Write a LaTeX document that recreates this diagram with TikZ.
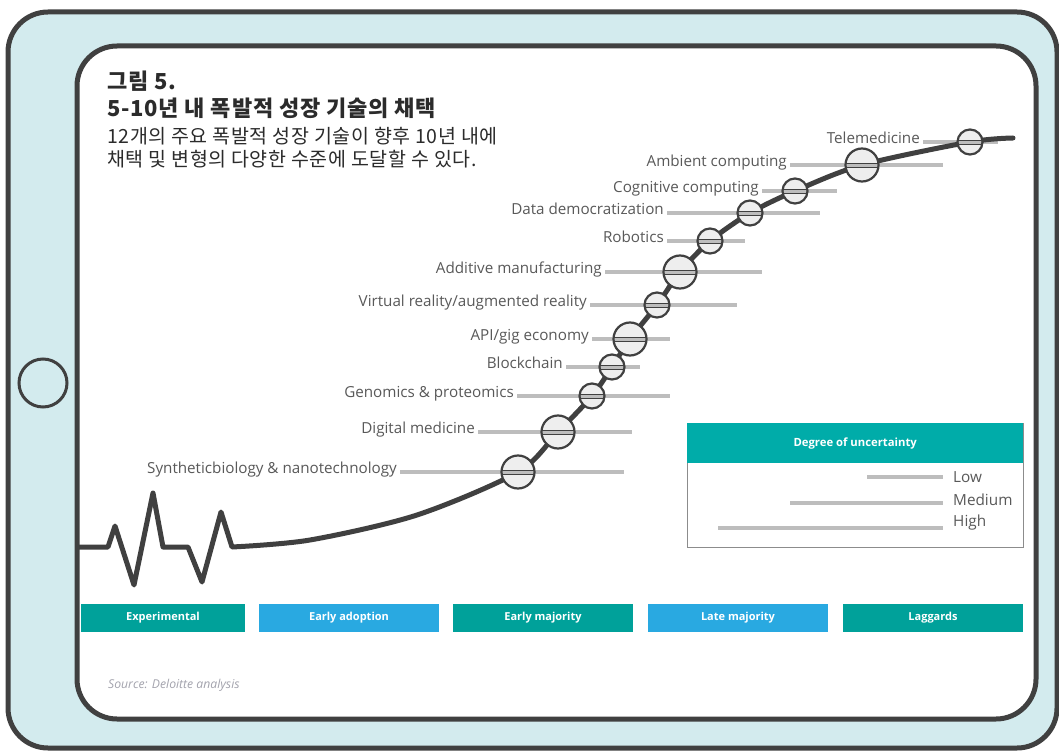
\documentclass[tikz,border=0pt]{standalone}
\usepackage{fontspec}
\setmainfont{Open Sans}
\newfontfamily\kofont{Noto Sans CJK KR}
\usetikzlibrary{calc}

\definecolor{edge}{HTML}{404040}
\definecolor{screenblue}{HTML}{D3EBEE}
\definecolor{labelgray}{HTML}{595959}
\definecolor{bargray}{HTML}{BDBDBD}
\definecolor{bubblefill}{HTML}{EEEEEE}
\definecolor{phaseteal}{HTML}{00A19A}
\definecolor{phaseblue}{HTML}{29A9E1}
\definecolor{headteal}{HTML}{00ACA9}
\definecolor{legendedge}{HTML}{8C8C8C}
\definecolor{sourcegray}{HTML}{A3A3AD}
\definecolor{titlegray}{HTML}{2B2B2B}

\tikzset{
  frame/.style={draw=edge, line width=5pt, rounded corners=40pt},
  wave/.style={draw=edge, line width=5pt, line join=round, line cap=round},
  bar/.style={draw=bargray, line width=4pt},
  bubble/.style={circle, draw=edge, line width=2.2pt, fill=bubblefill, inner sep=0pt,
    path picture={\draw[edge, line width=0.9pt, fill=bargray]
      ([yshift=-2pt]path picture bounding box.west) rectangle
      ([yshift=2pt]path picture bounding box.east);}},
  techlabel/.style={anchor=base east, inner sep=0pt, text=labelgray,
    font=\fontsize{15.2}{18}\selectfont},
  phase/.style={minimum width=180pt, minimum height=28pt, inner sep=0pt, text=white,
    font=\bfseries\fontsize{11}{13}\selectfont},
  levellabel/.style={anchor=west, inner sep=0pt, text=labelgray,
    font=\fontsize{15.3}{18}\selectfont},
  heading/.style={anchor=base west, inner sep=0pt, text=titlegray},
}

% x / y / radius / bar start / bar end / name / text
\def\techlist{
  518/472/16.5/400/624/synbio/{Syntheticbiology \& nanotechnology},
  558/432/16.5/478/632/digmed/{Digital medicine},
  592/396/12.5/517/670/genomics/{Genomics \& proteomics},
  612/367/12.5/566/640/chain/{Blockchain},
  630/339/16.5/592/670/api/{API/gig economy},
  657/305/12.5/590/737/vrar/{Virtual reality/augmented reality},
  680/272/16.5/605/762/additive/{Additive manufacturing},
  710/241/12.5/667/745/robot/{Robotics},
  750/213/12.5/667/820/datademo/{Data democratization},
  795/191/12.5/762/837/cognitive/{Cognitive computing},
  862/165/16.5/790/943/ambient/{Ambient computing},
  970/142/12.5/923/998/telemed/{Telemedicine}}

\begin{document}
\begin{tikzpicture}[x=1pt, y=-1pt]
  \useasboundingbox (0,0) rectangle (1059,751);

  % tablet body and screen
  \draw[frame, fill=screenblue] (8,12) rectangle (1057,748);
  \draw[frame, fill=white] (77,46) rectangle (1036,719);
  \node[circle, draw=edge, line width=3pt, minimum size=48pt] (button) at (43,383) {};

  % heading
  \node[heading, font=\kofont\bfseries\fontsize{22}{26}\selectfont\addfontfeatures{LetterSpace=3.5}]
    (fignum) at (107,90) {그림 5.};
  \node[heading, font=\kofont\bfseries\fontsize{22}{26}\selectfont\addfontfeatures{LetterSpace=3.5}]
    (title) at (107,117) {5-10년 내 폭발적 성장 기술의 채택};
  \node[heading, font=\kofont\fontsize{19.5}{23}\selectfont\addfontfeatures{LetterSpace=3}]
    (subtitle) at (107,144) {12개의 주요 폭발적 성장 기술이 향후 10년 내에};
  \node[heading, font=\kofont\fontsize{19.5}{23}\selectfont\addfontfeatures{LetterSpace=3}]
    (subtitle2) at (107,167) {채택 및 변형의 다양한 수준에 도달할 수 있다.};

  % uncertainty bars and labels
  \foreach \cx/\cy/\rad/\xa/\xb/\id/\txt in \techlist {
    \coordinate (\id) at (\cx,\cy);
    \coordinate (\id-l) at (\xa,\cy);
    \coordinate (\id-r) at (\xb,\cy);
    \draw[bar] (\id-l) -- (\id-r);
    \node[techlabel] (\id-t) at ([xshift=-3pt,yshift=-1.5pt]\id-l) {\txt};
  }

  % heartbeat running into the adoption curve
  \draw[wave] (79,547) -- (108,547) -- (115,526) -- (134,585) -- (153,493)
    -- (163,547) -- (188,547) -- (202,582) -- (221,512) -- (232,547)
    -- plot[smooth, tension=0.5] coordinates {(232,547) (310,540) (417,515)
      (synbio) (digmed) (genomics) (chain) (api) (vrar) (additive) (robot)
      (datademo) (cognitive) (ambient) (telemed) (1013,138)};

  \foreach \cx/\cy/\rad/\xa/\xb/\id/\txt in \techlist
    \node[bubble, minimum size=2*\rad pt] (\id-b) at (\id) {};

  % legend
  \node[draw=legendedge, line width=1pt, minimum width=336pt, minimum height=124pt,
    inner sep=0pt, anchor=north west] (legend) at (687,423) {};
  \node[fill=headteal, minimum width=336pt, minimum height=40pt, inner sep=0pt,
    anchor=north west, text=white, font=\bfseries\fontsize{11.3}{13}\selectfont]
    (legendhead) at (legend.north west) {Degree of uncertainty};
  \foreach \by/\ty/\xa/\lvl in {477/477/867/Low, 503/500/790/Medium, 528/523/718/High} {
    \coordinate (\lvl-r) at (943,\by);
    \draw[bar] (\xa,\by) -- (\lvl-r);
    \node[levellabel] (\lvl-t) at (953,\ty) {\lvl};
  }

  % adoption phases
  \node[phase, fill=phaseteal, minimum width=164pt] (exp) at (163,618) {Experimental};
  \node[phase, fill=phaseblue] (early) at (349,618) {Early adoption};
  \node[phase, fill=phaseteal] (earlymaj) at (543,618) {Early majority};
  \node[phase, fill=phaseblue] (latemaj) at (738,618) {Late majority};
  \node[phase, fill=phaseteal] (lag) at (933,618) {Laggards};

  \node[anchor=base west, inner sep=0pt, text=sourcegray,
    font=\itshape\fontsize{12.2}{14}\selectfont] (source) at (108,688)
    {Source: Deloitte analysis};
\end{tikzpicture}
\end{document}
